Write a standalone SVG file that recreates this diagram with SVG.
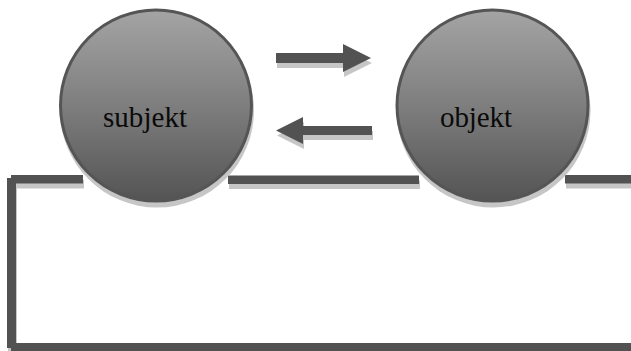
<svg xmlns="http://www.w3.org/2000/svg" xmlns:xlink="http://www.w3.org/1999/xlink" width="631" height="351" viewBox="0 0 631 351">
  <style>
    .ln { fill: #525252; }
    .sh { fill: #c6c6c6; stroke: none; }
    .ball { fill: url(#g); stroke: #555555; stroke-width: 3; }
    .lbl { font-family: "Liberation Serif", "Times New Roman", serif; font-size: 29px; fill: #0a0a0a; }
  </style>
  <defs>
    <linearGradient id="g" x1="0" y1="0" x2="0" y2="1">
      <stop offset="0" stop-color="#a4a4a4"/>
      <stop offset="0.5" stop-color="#7e7e7e"/>
      <stop offset="1" stop-color="#545454"/>
    </linearGradient>
  </defs>
  <rect width="631" height="351" fill="#ffffff"/>
  <g id="connectors">
    <g class="sh" transform="translate(1,5)">
      <rect x="11" y="175" width="72" height="8.5"/>
      <rect x="228" y="175.5" width="191" height="8.5"/>
      <rect x="565" y="175" width="66" height="8.5"/>
      <rect x="7" y="178" width="9" height="170"/>
      <polygon points="276,53 343,53 343,44 371,58 343,72 343,63 276,63"/>
      <polygon points="372,126 303,126 303,117 276,130.5 303,144 303,135 372,135"/>
    </g>
    <g class="ln">
      <rect x="11" y="175" width="72" height="8.5"/>
      <rect x="228" y="175.5" width="191" height="8.5"/>
      <rect x="565" y="175" width="66" height="8.5"/>
      <rect x="7" y="178" width="9" height="170"/>
      <rect x="11" y="343" width="620" height="9"/>
      <polygon points="276,53 343,53 343,44 371,58 343,72 343,63 276,63"/>
      <polygon points="372,126 303,126 303,117 276,130.5 303,144 303,135 372,135"/>
    </g>
  </g>
  <g id="subjekt">
    <circle class="sh" cx="157" cy="110.5" r="97"/>
    <circle class="ball" cx="156" cy="105.5" r="95.5"/>
    <text class="lbl" x="103" y="127" textLength="84">subjekt</text>
  </g>
  <g id="objekt">
    <circle class="sh" cx="493.5" cy="110.5" r="97"/>
    <circle class="ball" cx="492.5" cy="105.5" r="95.5"/>
    <text class="lbl" x="440" y="127" textLength="72">objekt</text>
  </g>
</svg>
